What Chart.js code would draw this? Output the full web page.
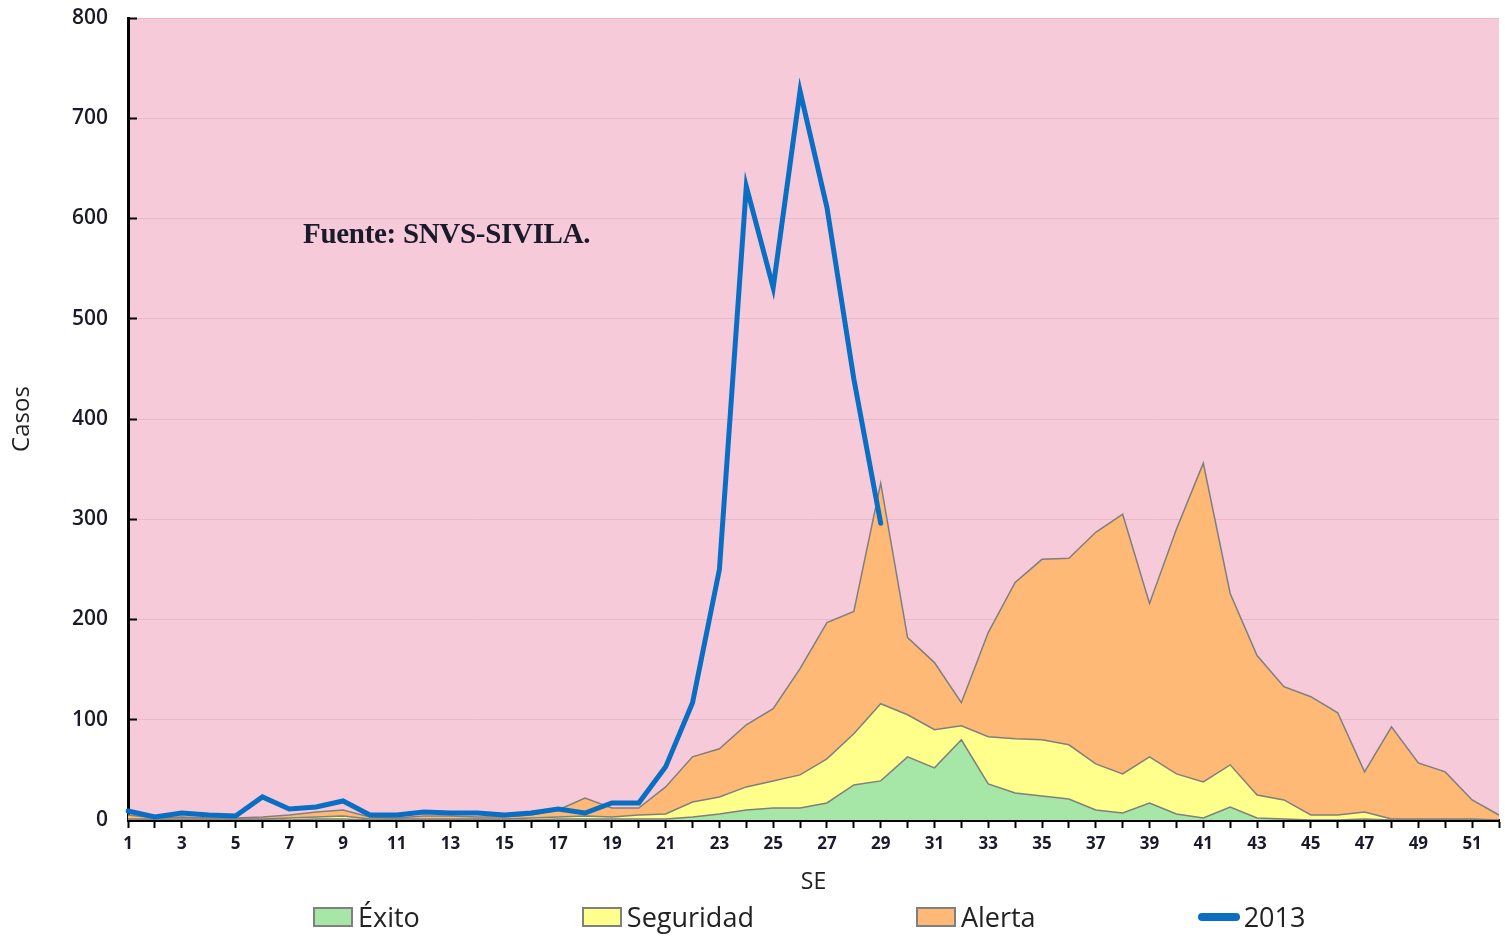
<!DOCTYPE html>
<html>
<head>
<meta charset="utf-8">
<script src="https://cdn.jsdelivr.net/npm/chart.js@4.4.0/dist/chart.umd.min.js"></script>
<style>
  html, body { margin: 0; padding: 0; background: #fff; }
  #wrap { position: relative; width: 1505px; height: 937px; }
  #fuente { position: absolute; left: 303px; top: 219px; font-family: 'Liberation Serif', serif; font-weight: bold; font-size: 29px; line-height: 29px; color: #1a1a2a; letter-spacing: -0.3px; }
  #leyenda { position: absolute; left: 313px; top: 900px; display: flex; font-family: 'Open Sans', sans-serif; font-size: 27px; line-height: 34px; color: #222; }
  .item { display: flex; align-items: center; margin-right: 162px; }
  .caja { width: 36px; height: 16px; border: 2px solid #808080; margin-right: 5px; }
  .linea { width: 42px; height: 8px; border-radius: 4px; margin-right: 4px; }
</style>
</head>
<body>
<div id="wrap">
  <canvas id="canal" width="1505" height="937"></canvas>
  <div id="fuente">Fuente: SNVS-SIVILA.</div>
  <div id="leyenda"></div>
</div>
<script>
// semanas epidemiologicas
var semanas = [1, 2, 3, 4, 5, 6, 7, 8, 9, 10, 11, 12, 13, 14, 15, 16, 17, 18, 19, 20,
  21, 22, 23, 24, 25, 26, 27, 28, 29, 30, 31, 32, 33, 34, 35, 36, 37, 38, 39, 40,
  41, 42, 43, 44, 45, 46, 47, 48, 49, 50, 51, 52]

var exito = [0, 0, 0, 0, 0, 0, 0, 1, 1, 0, 0, 0, 0, 0, 0, 0, 1, 1, 1, 1,
  1, 3, 6, 10, 12, 12, 17, 35, 39, 63, 52, 80, 36, 27, 24, 21,
  10, 7, 17, 6, 2, 13, 2, 1, 0, 0, 1, 0, 0, 0, 0, 0]

var seguridad = [1, 1, 1, 1, 1, 1, 2, 3, 4, 1, 1, 1, 1, 1, 1, 2, 3, 4, 3, 5,
  6, 18, 23, 33, 39, 45, 61, 86, 116, 105, 90, 94, 83, 81, 80, 75,
  56, 46, 63, 46, 38, 55, 25, 20, 5, 5, 8, 1, 1, 1, 1, 0]

var alerta = [5, 2, 3, 2, 2, 3, 5, 8, 10, 3, 2, 4, 4, 3, 3, 5, 10, 22, 12, 12,
  33, 63, 71, 95, 111, 151, 197, 208, 336, 182, 157, 117, 187, 237, 260, 261,
  287, 305, 216, 290, 356, 226, 164, 133, 123, 107, 48, 93, 57, 48, 20, 5]

var casos2013 = [9, 3, 7, 5, 4, 23, 11, 13, 19, 5, 5, 8, 7, 7, 5, 7, 11, 7, 17, 17,
  53, 117, 250, 632, 531, 727, 611, 440, 296]

var marcasY = [0, 100, 200, 300, 400, 500, 600, 700, 800]

var verde = '#A6E6A6'
var amarillo = '#FFFF8C'
var naranja = '#FDB975'
var rosa = '#F7CADA'
var azul = '#0A6FC2'
var gris = '#7F7F7F'

// pinta el fondo rosa (zona epidemica) del area del grafico
var fondo = {
  id: 'fondo',
  beforeDraw: function (chart) {
    var a = chart.chartArea
    var ctx = chart.ctx
    ctx.save()
    ctx.fillStyle = rosa
    ctx.fillRect(a.left, a.top, a.right - a.left, a.bottom - a.top)
    ctx.restore()
  }
}

var grafico = new Chart(document.getElementById('canal').getContext('2d'), {
  type: 'line',
  data: {
    labels: semanas,
    datasets: [{
      label: 'Éxito',
      data: exito,
      backgroundColor: verde,
      borderColor: gris,
      borderWidth: 1.5,
      fill: 'origin',
      pointRadius: 0,
      tension: 0,
      order: 1
    }, {
      label: 'Seguridad',
      data: seguridad,
      backgroundColor: amarillo,
      borderColor: gris,
      borderWidth: 1.5,
      fill: 'origin',
      pointRadius: 0,
      tension: 0,
      order: 2
    }, {
      label: 'Alerta',
      data: alerta,
      backgroundColor: naranja,
      borderColor: gris,
      borderWidth: 1.5,
      fill: 'origin',
      pointRadius: 0,
      tension: 0,
      order: 3
    }, {
      label: '2013',
      data: casos2013,
      borderColor: azul,
      backgroundColor: azul,
      borderWidth: 5,
      fill: false,
      pointRadius: 0,
      tension: 0,
      borderCapStyle: 'round',
      order: 0
    }]
  },
  options: {
    responsive: false,
    animation: false,
    layout: {
      padding: { top: 18, right: 5, bottom: 37, left: 0 }
    },
    plugins: {
      legend: { display: false },
      tooltip: { enabled: false }
    },
    scales: {
      x: {
        afterFit: function (scale) { scale.height = 80 },
        grid: {
          drawOnChartArea: false,
          tickColor: '#000',
          tickLength: 8,
          tickWidth: 2
        },
        border: { color: '#000', width: 3 },
        ticks: {
          autoSkip: false,
          maxRotation: 0,
          padding: 6,
          color: '#1a1a2a',
          font: { family: 'Open Sans', size: 17, weight: 'bold' },
          callback: function (v, i) { return i % 2 == 0 ? semanas[i] : '' }
        },
        title: {
          display: true,
          text: 'SE',
          color: '#222',
          font: { family: 'Open Sans', size: 23 },
          padding: { top: 0, bottom: 4 }
        }
      },
      y: {
        min: 0,
        max: 800,
        // ancho fijo y sin relleno extra arriba/abajo (las marcas van hacia adentro)
        afterFit: function (scale) {
          scale.width = 128
          scale.paddingTop = 0
          scale.paddingBottom = 0
        },
        afterBuildTicks: function (scale) {
          scale.ticks = marcasY.map(function (v) { return { value: v } })
        },
        grid: {
          color: '#EBB8C8',
          lineWidth: 1,
          tickColor: '#000',
          tickLength: -9,
          tickWidth: 2
        },
        border: { color: '#000', width: 3 },
        ticks: {
          padding: 29,
          color: '#1a1a2a',
          font: { family: 'Open Sans', size: 21, weight: '600' }
        },
        title: {
          display: true,
          text: 'Casos',
          color: '#222',
          font: { family: 'Open Sans', size: 24 },
          padding: { top: 8, bottom: 0 }
        }
      }
    }
  },
  plugins: [fondo]
})

// leyenda abajo, armada con los datasets
var leyenda = document.getElementById('leyenda')
grafico.data.datasets.forEach(function (ds) {
  var item = document.createElement('div')
  item.className = 'item'
  var marca = document.createElement('div')
  if (ds.fill) {
    marca.className = 'caja'
    marca.style.background = ds.backgroundColor
  } else {
    marca.className = 'linea'
    marca.style.background = ds.borderColor
  }
  var texto = document.createElement('span')
  texto.textContent = ds.label
  item.appendChild(marca)
  item.appendChild(texto)
  leyenda.appendChild(item)
})
</script>
</body>
</html>
